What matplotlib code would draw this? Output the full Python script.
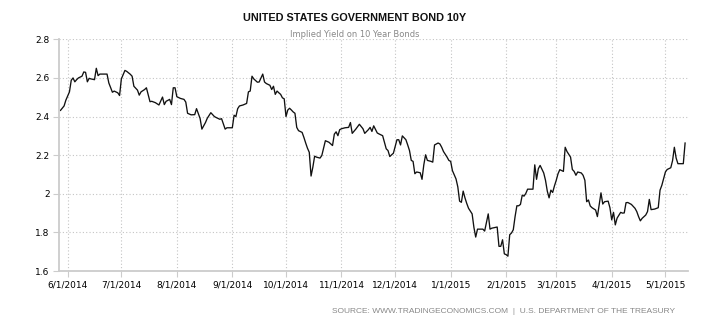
import matplotlib
matplotlib.use("Agg")
import matplotlib.pyplot as plt
import matplotlib.dates as mdates
from matplotlib.ticker import FixedLocator, FuncFormatter
import pandas as pd

# 10Y yield (one row per month)
dates = [
    "2014-05-28", "2014-05-30", "2014-05-31",
    "2014-06-02", "2014-06-03", "2014-06-04", "2014-06-05", "2014-06-06", "2014-06-07", "2014-06-09",
    "2014-06-10", "2014-06-11", "2014-06-12", "2014-06-13", "2014-06-14", "2014-06-16", "2014-06-17",
    "2014-06-18", "2014-06-19", "2014-06-22", "2014-06-23", "2014-06-24", "2014-06-26", "2014-06-27",
    "2014-06-29", "2014-06-30",
    "2014-07-01", "2014-07-03", "2014-07-04", "2014-07-06", "2014-07-07", "2014-07-08", "2014-07-10",
    "2014-07-11", "2014-07-12", "2014-07-14", "2014-07-15", "2014-07-17", "2014-07-18", "2014-07-20",
    "2014-07-22", "2014-07-24", "2014-07-25", "2014-07-26", "2014-07-28", "2014-07-29", "2014-07-30",
    "2014-07-31",
    "2014-08-01", "2014-08-03", "2014-08-05", "2014-08-06", "2014-08-07", "2014-08-09", "2014-08-11",
    "2014-08-12", "2014-08-14", "2014-08-15", "2014-08-17", "2014-08-18", "2014-08-20", "2014-08-22",
    "2014-08-23", "2014-08-25", "2014-08-26", "2014-08-28", "2014-08-29",
    "2014-09-01", "2014-09-02", "2014-09-03", "2014-09-04", "2014-09-05", "2014-09-07", "2014-09-09",
    "2014-09-10", "2014-09-11", "2014-09-12", "2014-09-13", "2014-09-15", "2014-09-16", "2014-09-17",
    "2014-09-18", "2014-09-19", "2014-09-20", "2014-09-22", "2014-09-23", "2014-09-24", "2014-09-25",
    "2014-09-26", "2014-09-27", "2014-09-28", "2014-09-29", "2014-09-30",
    "2014-10-01", "2014-10-02", "2014-10-03", "2014-10-04", "2014-10-05", "2014-10-06", "2014-10-07",
    "2014-10-08", "2014-10-10", "2014-10-11", "2014-10-12", "2014-10-13", "2014-10-14", "2014-10-15",
    "2014-10-16", "2014-10-17", "2014-10-18", "2014-10-20", "2014-10-21", "2014-10-23", "2014-10-25",
    "2014-10-27", "2014-10-28", "2014-10-29", "2014-10-30", "2014-10-31",
    "2014-11-01", "2014-11-03", "2014-11-05", "2014-11-06", "2014-11-07", "2014-11-09", "2014-11-11",
    "2014-11-13", "2014-11-14", "2014-11-16", "2014-11-17", "2014-11-18", "2014-11-19", "2014-11-21",
    "2014-11-22", "2014-11-24", "2014-11-25", "2014-11-26", "2014-11-27", "2014-11-28", "2014-11-29",
    "2014-11-30",
    "2014-12-02", "2014-12-03", "2014-12-04", "2014-12-05", "2014-12-07", "2014-12-08", "2014-12-09",
    "2014-12-10", "2014-12-11", "2014-12-12", "2014-12-13", "2014-12-15", "2014-12-16", "2014-12-17",
    "2014-12-18", "2014-12-19", "2014-12-21", "2014-12-22", "2014-12-23", "2014-12-25", "2014-12-26",
    "2014-12-27", "2014-12-28", "2014-12-30", "2014-12-31",
    "2015-01-01", "2015-01-02", "2015-01-04", "2015-01-05", "2015-01-06", "2015-01-07", "2015-01-08",
    "2015-01-09", "2015-01-10", "2015-01-11", "2015-01-13", "2015-01-14", "2015-01-15", "2015-01-16",
    "2015-01-17", "2015-01-19", "2015-01-20", "2015-01-22", "2015-01-23", "2015-01-24", "2015-01-26",
    "2015-01-27", "2015-01-28", "2015-01-29", "2015-01-30", "2015-01-31",
    "2015-02-01", "2015-02-02", "2015-02-03", "2015-02-04", "2015-02-05", "2015-02-06", "2015-02-07",
    "2015-02-08", "2015-02-09", "2015-02-10", "2015-02-11", "2015-02-12", "2015-02-13", "2015-02-15",
    "2015-02-16", "2015-02-17", "2015-02-18", "2015-02-19", "2015-02-20", "2015-02-22", "2015-02-23",
    "2015-02-24", "2015-02-25", "2015-02-26", "2015-02-27", "2015-02-28",
    "2015-03-01", "2015-03-02", "2015-03-03", "2015-03-05", "2015-03-06", "2015-03-07", "2015-03-09",
    "2015-03-10", "2015-03-11", "2015-03-12", "2015-03-13", "2015-03-15", "2015-03-16", "2015-03-17",
    "2015-03-18", "2015-03-19", "2015-03-20", "2015-03-21", "2015-03-23", "2015-03-24", "2015-03-26",
    "2015-03-27", "2015-03-28", "2015-03-30", "2015-03-31",
    "2015-04-01", "2015-04-02", "2015-04-03", "2015-04-04", "2015-04-06", "2015-04-07", "2015-04-08",
    "2015-04-09", "2015-04-10", "2015-04-12", "2015-04-14", "2015-04-15", "2015-04-16", "2015-04-17",
    "2015-04-18", "2015-04-20", "2015-04-21", "2015-04-22", "2015-04-23", "2015-04-25", "2015-04-27",
    "2015-04-28", "2015-04-29",
    "2015-05-01", "2015-05-02", "2015-05-04", "2015-05-05", "2015-05-06", "2015-05-07", "2015-05-08",
    "2015-05-10", "2015-05-11", "2015-05-12",
]

yields = [
    2.432, 2.455, 2.485,
    2.528, 2.588, 2.600, 2.580, 2.591, 2.600, 2.609,
    2.631, 2.629, 2.580, 2.598, 2.595, 2.591, 2.650,
    2.612, 2.620, 2.620, 2.620, 2.574, 2.526, 2.532,
    2.523, 2.509,
    2.595, 2.639, 2.634, 2.619, 2.609, 2.557, 2.537,
    2.511, 2.528, 2.540, 2.549, 2.477, 2.479, 2.472,
    2.460, 2.501, 2.462, 2.479, 2.489, 2.462, 2.549,
    2.549,
    2.503, 2.494, 2.489, 2.475, 2.417, 2.409, 2.410,
    2.441, 2.390, 2.335, 2.369, 2.391, 2.420, 2.400,
    2.395, 2.386, 2.389, 2.335, 2.342,
    2.342, 2.407, 2.400, 2.441, 2.455, 2.460, 2.468,
    2.528, 2.532, 2.609, 2.595, 2.578, 2.579, 2.600,
    2.620, 2.579, 2.571, 2.562, 2.540, 2.557, 2.515,
    2.532, 2.523, 2.515, 2.497, 2.492,
    2.400, 2.434, 2.443, 2.434, 2.424, 2.417, 2.344,
    2.327, 2.318, 2.292, 2.263, 2.236, 2.215, 2.092,
    2.138, 2.195, 2.190, 2.185, 2.198, 2.275, 2.267,
    2.250, 2.309, 2.321, 2.301, 2.332,
    2.337, 2.342, 2.344, 2.369, 2.313, 2.335, 2.360,
    2.337, 2.313, 2.332, 2.344, 2.323, 2.352, 2.315,
    2.310, 2.301, 2.267, 2.233, 2.224, 2.193, 2.202,
    2.210,
    2.280, 2.280, 2.253, 2.300, 2.280, 2.253, 2.224,
    2.173, 2.168, 2.104, 2.113, 2.109, 2.075, 2.150,
    2.202, 2.173, 2.168, 2.164, 2.253, 2.263, 2.258,
    2.241, 2.219, 2.190, 2.173,
    2.168, 2.120, 2.077, 2.036, 1.962, 1.956, 2.014,
    1.979, 1.950, 1.925, 1.896, 1.826, 1.776, 1.817,
    1.817, 1.817, 1.807, 1.896, 1.817, 1.822, 1.826,
    1.828, 1.728, 1.728, 1.762, 1.689,
    1.685, 1.677, 1.788, 1.797, 1.814, 1.882, 1.938,
    1.938, 1.945, 1.993, 1.988, 2.002, 2.024, 2.024,
    2.024, 2.150, 2.075, 2.130, 2.147, 2.108, 2.070,
    2.014, 1.979, 2.019, 2.007, 2.041,
    2.070, 2.104, 2.125, 2.116, 2.241, 2.219, 2.190,
    2.126, 2.116, 2.096, 2.113, 2.108, 2.096, 2.070,
    1.959, 1.968, 1.937, 1.928, 1.916, 1.882, 2.005,
    1.947, 1.959, 1.962, 1.928,
    1.865, 1.904, 1.839, 1.874, 1.904, 1.900, 1.901,
    1.954, 1.955, 1.945, 1.925, 1.908, 1.882, 1.860,
    1.873, 1.890, 1.908, 1.971, 1.918, 1.921, 1.928,
    2.019, 2.044,
    2.113, 2.126, 2.135, 2.172, 2.241, 2.185, 2.156,
    2.156, 2.156, 2.263,
]

month_ticks = pd.date_range("2014-06-01", "2015-05-01", freq="MS")
y_ticks = [1.6, 1.8, 2.0, 2.2, 2.4, 2.6, 2.8]

TITLE = "UNITED STATES GOVERNMENT BOND 10Y"
SUBTITLE = "Implied Yield on 10 Year Bonds"
SOURCE = "SOURCE: WWW.TRADINGECONOMICS.COM  |  U.S. DEPARTMENT OF THE TREASURY"

x = pd.to_datetime(dates)

fig = plt.figure(figsize=(7.1, 3.25), dpi=100)
ax = fig.add_axes([0.0827, 0.166, 0.886, 0.713])

ax.plot(x, yields, color="#111111", linewidth=0.95)

ax.set_ylim(1.6, 2.8)
ax.set_xlim(pd.Timestamp("2014-05-27"), pd.Timestamp("2015-05-13 12:00"))
ax.yaxis.set_major_locator(FixedLocator(y_ticks))
ax.yaxis.set_major_formatter(FuncFormatter(lambda v, p: f"{v:g}"))
ax.xaxis.set_major_locator(FixedLocator(mdates.date2num(month_ticks)))
ax.xaxis.set_major_formatter(FuncFormatter(
    lambda v, p: f"{mdates.num2date(v).month}/{mdates.num2date(v).day}/{mdates.num2date(v).year}"))

ax.grid(True, color="#c4c4c4", linestyle=(0, (1, 2)), linewidth=0.8)
for s in ["top", "right"]:
    ax.spines[s].set_visible(False)
for s in ["left", "bottom"]:
    ax.spines[s].set_color("#cccccc")
    ax.spines[s].set_linewidth(1.3)

ax.tick_params(axis="x", length=4, color="#cccccc", labelsize=6.5, labelcolor="#000000", pad=2.5)
ax.tick_params(axis="y", length=4, color="#cccccc", labelsize=6.5, labelcolor="#000000", pad=2.5)

fig.text(0.5, 0.945, TITLE, ha="center", va="center", fontsize=7.8, fontweight="bold",
         family=["Liberation Sans"], color="#111111")
fig.text(0.5, 0.895, SUBTITLE, ha="center", va="center", fontsize=6.0, color="#888888")
fig.text(0.951, 0.043, SOURCE, ha="right", va="center", fontsize=6.0, color="#888888",
         family=["Liberation Sans"])

plt.savefig("out.png", dpi=100)
plt.close()
